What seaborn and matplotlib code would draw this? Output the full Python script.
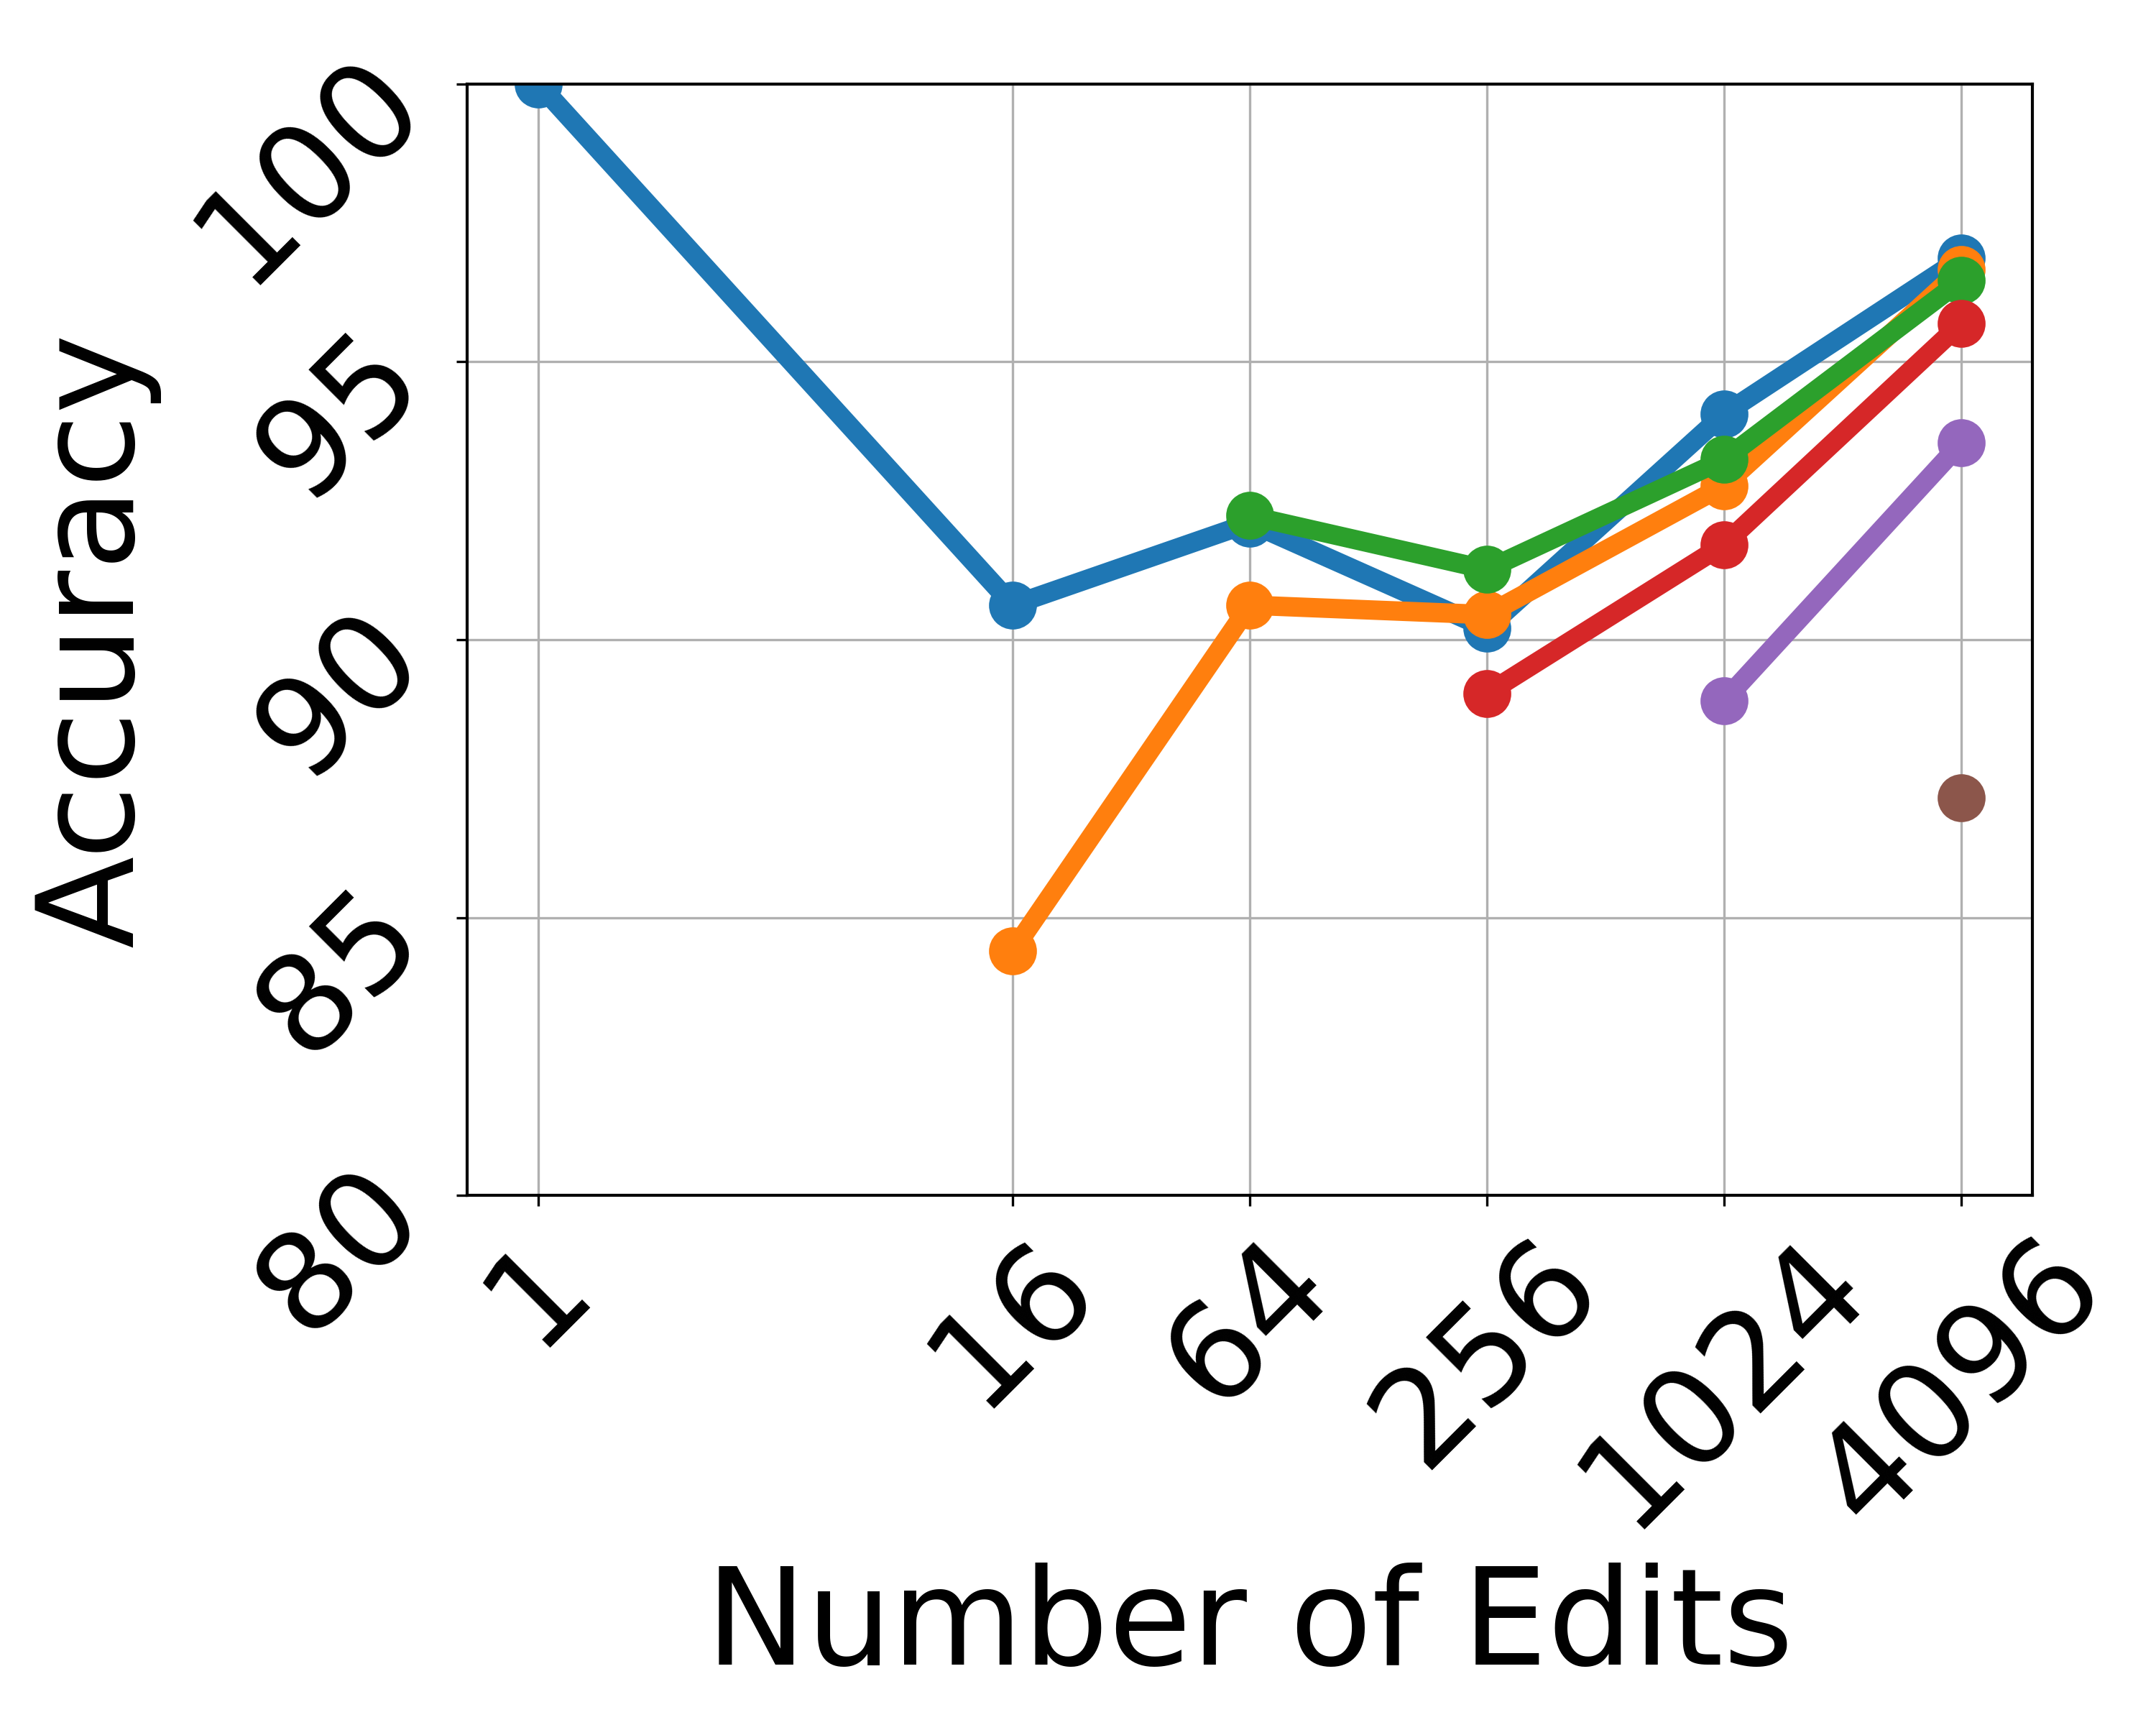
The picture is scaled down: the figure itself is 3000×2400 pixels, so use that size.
import matplotlib
matplotlib.use("Agg")
import matplotlib.pyplot as plt
import seaborn as sns
import pandas as pd
import numpy as np

# ---- data ----
edits_ticks = [1, 16, 64, 256, 1024, 4096]
tick_labels = ["1", "16", "64", "256", "1024", "4096"]

bs1_x = [1, 16, 64, 256, 1024, 4096]
bs1_y = [100.0, 90.62, 92.1, 90.2, 94.06, 96.86]

bs16_x = [16, 64, 256, 1024, 4096]
bs16_y = [84.4, 90.62, 90.45, 92.77, 96.66]

bs64_x = [64, 256, 1024, 4096]
bs64_y = [92.23, 91.26, 93.24, 96.46]

bs256_x = [256, 1024, 4096]
bs256_y = [89.03, 91.71, 95.69]

bs1024_x = [1024, 4096]
bs1024_y = [88.9, 93.54]

bs4096_x = [4096]
bs4096_y = [87.15]

series = [
    ("Batch 1", bs1_x, bs1_y),
    ("Batch 16", bs16_x, bs16_y),
    ("Batch 64", bs64_x, bs64_y),
    ("Batch 256", bs256_x, bs256_y),
    ("Batch 1024", bs1024_x, bs1024_y),
    ("Batch 4096", bs4096_x, bs4096_y),
]

rows = []
for name, xs, ys in series:
    for x, y in zip(xs, ys):
        rows.append({"series": name, "edits": x, "acc": y})
df = pd.DataFrame(rows)

colors = sns.color_palette("tab10", 6)

fig = plt.figure(figsize=(10, 8), dpi=300)
ax = fig.add_axes([0.2168, 0.307, 0.9426 - 0.2168, 0.9514 - 0.307])

for (name, _, _), c in zip(series, colors):
    sub = df[df["series"] == name]
    sns.lineplot(data=sub, x="edits", y="acc", ax=ax, color=c, marker="o",
                 markersize=16, linewidth=6.5, markeredgewidth=0, legend=False)

ax.set_xscale("log", base=2)
ax.set_xticks(edits_ticks)
ax.set_xticklabels(tick_labels)
ax.minorticks_off()
ax.set_ylim(80, 100)
ax.set_yticks([80, 85, 90, 95, 100])
ax.grid(True, color="#b0b0b0", linewidth=0.8)
ax.set_axisbelow(True)
ax.tick_params(axis="both", labelsize=45)
plt.setp(ax.get_xticklabels(), rotation=45)
plt.setp(ax.get_yticklabels(), rotation=45)
ax.set_xlabel("Number of Edits", fontsize=45)
ax.set_ylabel("Accuracy", fontsize=45)
for s in ax.spines.values():
    s.set_linewidth(1.0)
    s.set_color("black")

fig.savefig("out.png", dpi=300)
